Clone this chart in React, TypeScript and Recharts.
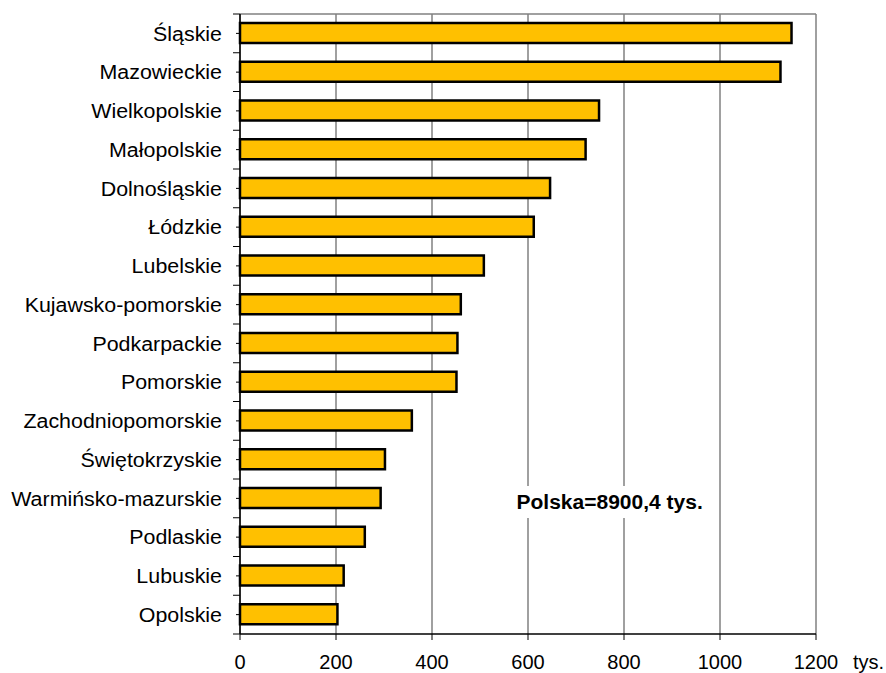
import React from 'react';
import { BarChart, Bar, XAxis, YAxis, CartesianGrid } from 'recharts';

const regions = [
  'Śląskie',
  'Mazowieckie',
  'Wielkopolskie',
  'Małopolskie',
  'Dolnośląskie',
  'Łódzkie',
  'Lubelskie',
  'Kujawsko-pomorskie',
  'Podkarpackie',
  'Pomorskie',
  'Zachodniopomorskie',
  'Świętokrzyskie',
  'Warmińsko-mazurskie',
  'Podlaskie',
  'Lubuskie',
  'Opolskie',
];
const values = [1149, 1126, 748, 720, 646, 612, 508, 460, 453, 451, 358, 302, 293, 260, 216, 203];
const xTicks = [0, 200, 400, 600, 800, 1000, 1200];

const FONT = '"Liberation Sans", Arial, sans-serif';
const W = 886;
const H = 673;
const TOP = 14;
const AXIS_BOTTOM = 634;
const BAND = (AXIS_BOTTOM - TOP) / regions.length;

const data = regions.map((name, i) => ({ name, value: values[i] }));

// Excel-style tick: long marks on category boundaries, short mark at the label
const RegionTick = (props: any) => {
  const { x, y, payload, index } = props;
  const ax = x + 18;
  return (
    <g>
      <line x1={ax - 7} x2={ax} y1={y - BAND / 2} y2={y - BAND / 2} stroke="#000" strokeWidth={1} />
      {index === regions.length - 1 && (
        <line x1={ax - 7} x2={ax} y1={y + BAND / 2} y2={y + BAND / 2} stroke="#000" strokeWidth={1} />
      )}
      <line x1={ax - 4} x2={ax} y1={y} y2={y} stroke="#000" strokeWidth={1} />
      <text
        transform={`translate(${x},${y}) scale(1.07,1)`}
        dy="0.36em"
        textAnchor="end"
        fontSize={20}
        fontFamily={FONT}
        fill="#000"
      >
        {payload.value}
      </text>
    </g>
  );
};

export default function App() {
  return (
    <div style={{ position: 'absolute', left: 0, top: 0, width: W, height: H, background: '#fff' }}>
      <BarChart
        width={W}
        height={H}
        data={data}
        layout="vertical"
        margin={{ top: TOP, right: 70, bottom: 0, left: 0 }}
        barSize={20}
      >
        <CartesianGrid vertical horizontal horizontalPoints={[TOP]} stroke="#808080" strokeWidth={1.5} />
        <XAxis
          type="number"
          domain={[0, 1200]}
          ticks={xTicks}
          height={H - AXIS_BOTTOM}
          tickSize={6}
          tickMargin={15}
          axisLine={{ stroke: '#000', strokeWidth: 1.5 }}
          tickLine={{ stroke: '#000' }}
          tick={{ fill: '#000', fontSize: 20, fontFamily: FONT }}
          interval={0}
        />
        <YAxis
          type="category"
          dataKey="name"
          width={240}
          tickSize={0}
          tickMargin={18}
          axisLine={{ stroke: '#000', strokeWidth: 1.5 }}
          tickLine={false}
          tick={<RegionTick />}
          interval={0}
        />
        <Bar dataKey="value" fill="#FFC000" stroke="#000" strokeWidth={2.5} isAnimationActive={false} />
      </BarChart>
      <div
        style={{
          position: 'absolute',
          left: 506,
          top: 486,
          padding: '4px 10px',
          background: '#fff',
          fontFamily: FONT,
          fontWeight: 'bold',
          fontSize: 20,
          color: '#000',
          lineHeight: '24px',
          transform: 'scaleX(1.05)',
          transformOrigin: 'left center',
        }}
      >
        Polska=8900,4 tys.
      </div>
      <div
        style={{
          position: 'absolute',
          left: 853,
          top: 650,
          fontFamily: FONT,
          fontSize: 20,
          color: '#000',
          lineHeight: '24px',
        }}
      >
        tys.
      </div>
    </div>
  );
}
